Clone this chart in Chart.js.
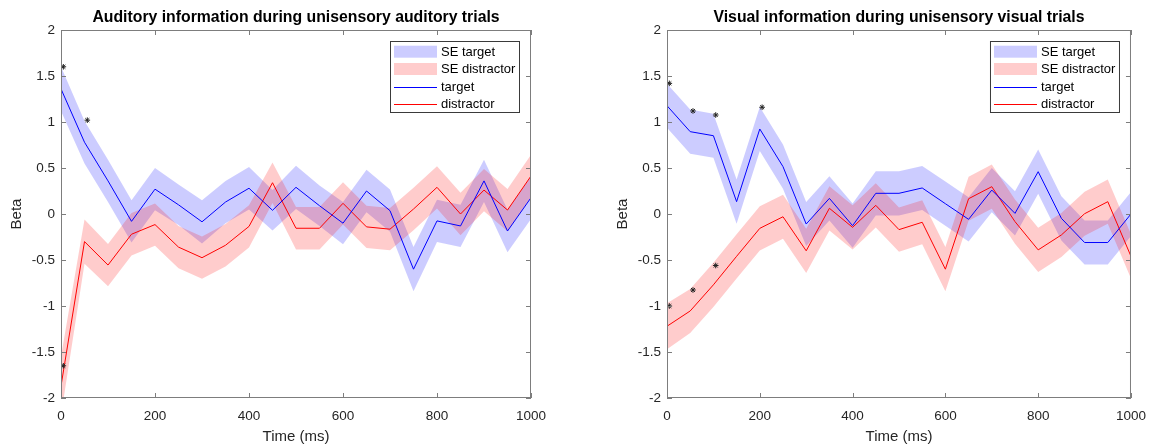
<!DOCTYPE html>
<html>
<head>
<meta charset="utf-8">
<script src="https://cdn.jsdelivr.net/npm/chart.js@4.4.1/dist/chart.umd.min.js"></script>
<style>
  html, body { margin: 0; padding: 0; background: #fff; }
  #wrap { position: relative; width: 1156px; height: 448px; }
  .panel { position: absolute; top: 0; width: 578px; height: 448px; }
</style>
</head>
<body>
<div id="wrap">
  <div class="panel" style="left:0"><canvas id="audChart" width="578" height="448"></canvas></div>
  <div class="panel" style="left:578px"><canvas id="visChart" width="578" height="448"></canvas></div>
</div>
<script>
// time bins (ms)
const timeMs = [0, 50, 100, 150, 200, 250, 300, 350, 400, 450, 500, 550, 600, 650, 700, 750, 800, 850, 900, 950, 1000];

// auditory trials
const audTarget   = [1.36, 0.78, 0.36, -0.08, 0.27, 0.10, -0.085, 0.13, 0.28, 0.04, 0.29, 0.09, -0.10, 0.25, 0.036, -0.60, -0.075, -0.13, 0.36, -0.185, 0.177];
const audTargetSE = [0.24, 0.23, 0.23, 0.23, 0.23, 0.22, 0.235, 0.23, 0.23, 0.22, 0.235, 0.22, 0.23, 0.23, 0.23, 0.24, 0.23, 0.23, 0.23, 0.23, 0.23];
const audDistr    = [-1.87, -0.30, -0.555, -0.22, -0.115, -0.36, -0.475, -0.34, -0.135, 0.34, -0.155, -0.155, 0.116, -0.14, -0.165, 0.054, 0.29, 0.0, 0.26, 0.043, 0.413];
const audDistrSE  = [0.32, 0.24, 0.23, 0.23, 0.23, 0.23, 0.23, 0.23, 0.23, 0.22, 0.23, 0.23, 0.23, 0.23, 0.23, 0.23, 0.23, 0.23, 0.23, 0.23, 0.23];
// significance markers
const audTargetStarX = [5, 56];
const audTargetStarY = [1.60, 1.02];
const audDistrStarX  = [5];
const audDistrStarY  = [-1.65];

// visual trials
const visTarget   = [1.177, 0.895, 0.851, 0.134, 0.924, 0.515, -0.109, 0.17, -0.127, 0.225, 0.225, 0.283, 0.112, -0.058, 0.26, 0.007, 0.46, -0.047, -0.31, -0.31, 0.0];
const visTargetSE = [0.24, 0.24, 0.24, 0.24, 0.24, 0.24, 0.24, 0.24, 0.24, 0.24, 0.24, 0.24, 0.24, 0.24, 0.24, 0.24, 0.24, 0.24, 0.24, 0.24, 0.24];
const visDistr    = [-1.22, -1.054, -0.77, -0.46, -0.156, -0.03, -0.40, 0.062, -0.145, 0.094, -0.17, -0.09, -0.60, 0.166, 0.297, -0.083, -0.39, -0.228, 0.003, 0.134, -0.46];
const visDistrSE  = [0.25, 0.24, 0.24, 0.24, 0.24, 0.24, 0.24, 0.24, 0.24, 0.24, 0.24, 0.24, 0.24, 0.24, 0.24, 0.24, 0.24, 0.24, 0.24, 0.24, 0.24];
const visTargetStarX = [5, 56, 105, 205];
const visTargetStarY = [1.42, 1.12, 1.076, 1.16];
const visDistrStarX  = [5, 56, 105];
const visDistrStarY  = [-1.0, -0.826, -0.56];

const legendLabels = ['SE target', 'SE distractor', 'target', 'distractor'];

const FONT = '"Liberation Sans", Arial, Helvetica, sans-serif';
const AXIS_COLOR = '#7d7d7d';
const TEXT_COLOR = '#262626';
const BLUE = 'rgb(0,0,255)';
const RED = 'rgb(255,0,0)';
const BLUE_FILL = 'rgba(0,0,255,0.2)';
const RED_FILL = 'rgba(255,0,0,0.2)';

function pts(ys) {
  return timeMs.map((t, i) => ({ x: t, y: ys[i] }));
}

function band(mean, se, sign) {
  return pts(mean.map((v, i) => v + sign * se[i]));
}

// axes box, inward ticks, title and the boxed legend
const matlabFrame = {
  id: 'matlabFrame',
  afterDraw(chart) {
    const { ctx, chartArea: a, scales: { x, y } } = chart;
    const opts = chart.options.plugins.matlabFrame;
    ctx.save();
    ctx.strokeStyle = AXIS_COLOR;
    ctx.lineWidth = 1;
    ctx.strokeRect(a.left + 0.5, a.top + 0.5, a.width - 1, a.height - 1);
    ctx.beginPath();
    x.ticks.forEach(t => {
      const px = Math.round(x.getPixelForValue(t.value)) + 0.5;
      ctx.moveTo(px, a.bottom); ctx.lineTo(px, a.bottom - 5);
      ctx.moveTo(px, a.top); ctx.lineTo(px, a.top + 5);
    });
    y.ticks.forEach(t => {
      const py = Math.round(y.getPixelForValue(t.value)) + 0.5;
      ctx.moveTo(a.left, py); ctx.lineTo(a.left + 5, py);
      ctx.moveTo(a.right, py); ctx.lineTo(a.right - 5, py);
    });
    ctx.stroke();

    // title
    ctx.fillStyle = '#000';
    ctx.font = 'bold 15.8px ' + FONT;
    ctx.textAlign = 'center';
    ctx.textBaseline = 'middle';
    ctx.fillText(opts.title, (a.left + a.right) / 2, 17.5);

    // legend
    const bw = 129, bh = 71;
    const bx = a.right - 12 - bw, by = a.top + 11;
    ctx.fillStyle = '#fff';
    ctx.fillRect(bx, by, bw, bh);
    ctx.strokeStyle = '#3a3a3a';
    ctx.strokeRect(bx + 0.5, by + 0.5, bw, bh);
    const rows = [10.7, 28, 45.5, 62.7];
    const swatch = [
      { fill: BLUE_FILL }, { fill: RED_FILL }, { line: BLUE }, { line: RED }
    ];
    ctx.font = '13px ' + FONT;
    ctx.textAlign = 'left';
    legendLabels.forEach((lbl, i) => {
      const cy = by + rows[i];
      const s = swatch[i];
      if (s.fill) {
        ctx.fillStyle = s.fill;
        ctx.fillRect(bx + 4, cy - 6, 43, 12);
      } else {
        ctx.strokeStyle = s.line;
        ctx.beginPath();
        ctx.moveTo(bx + 4, Math.round(cy) + 0.5);
        ctx.lineTo(bx + 47, Math.round(cy) + 0.5);
        ctx.stroke();
      }
      ctx.fillStyle = '#000';
      ctx.fillText(lbl, bx + 51, cy + 0.5);
    });
    ctx.restore();
  }
};

// plain numbers, no thousands separator or trailing zeros
const plainTick = v => String(Math.round(v * 100) / 100);

function makeChart(id, title, tgt, tgtSE, dis, disSE, tStarX, tStarY, dStarX, dStarY, padLeft, padRight) {
  const stars = tStarX.map((v, i) => ({ x: v, y: tStarY[i] }))
    .concat(dStarX.map((v, i) => ({ x: v, y: dStarY[i] })));
  const bandStyle = { borderWidth: 0, borderColor: 'rgba(0,0,0,0)', pointRadius: 0, pointHoverRadius: 0 };
  return new Chart(document.getElementById(id), {
    type: 'line',
    data: {
      datasets: [
        { label: 'stars', data: stars, showLine: false, pointStyle: 'star', pointRadius: 2.8,
          borderColor: '#222', borderWidth: 1, backgroundColor: '#222' },
        { label: 'target', data: pts(tgt), borderColor: BLUE, borderWidth: 1, pointRadius: 0, fill: false },
        { label: 'distractor', data: pts(dis), borderColor: RED, borderWidth: 1, pointRadius: 0, fill: false },
        Object.assign({ label: 'SE distractor', data: band(dis, disSE, 1), fill: '+1', backgroundColor: RED_FILL }, bandStyle),
        Object.assign({ label: 'dLo', data: band(dis, disSE, -1), fill: false }, bandStyle),
        Object.assign({ label: 'SE target', data: band(tgt, tgtSE, 1), fill: '+1', backgroundColor: BLUE_FILL }, bandStyle),
        Object.assign({ label: 'tLo', data: band(tgt, tgtSE, -1), fill: false }, bandStyle)
      ]
    },
    options: {
      responsive: false,
      animation: false,
      events: [],
      layout: { padding: { top: 30, left: padLeft, right: padRight, bottom: 0 } },
      elements: { line: { tension: 0 } },
      plugins: {
        legend: { display: false },
        tooltip: { enabled: false },
        matlabFrame: { title: title }
      },
      scales: {
        x: {
          type: 'linear', min: 0, max: 1000,
          ticks: { stepSize: 200, color: TEXT_COLOR, font: { family: FONT, size: 13.5 }, padding: 10, maxRotation: 0, callback: plainTick },
          grid: { display: false, drawTicks: false },
          border: { display: false },
          title: { display: true, text: 'Time (ms)', color: TEXT_COLOR, font: { family: FONT, size: 15 }, padding: { top: 0, bottom: 2 } },
          afterFit: s => { s.height = 50; }
        },
        y: {
          type: 'linear', min: -2, max: 2,
          ticks: { stepSize: 0.5, color: TEXT_COLOR, font: { family: FONT, size: 13.5 }, padding: 6, callback: plainTick },
          grid: { display: false, drawTicks: false },
          border: { display: false },
          title: { display: true, text: 'Beta', color: TEXT_COLOR, font: { family: FONT, size: 15 }, padding: { top: 7.5, bottom: 0 } },
          afterFit: s => { s.width = 61; }
        }
      }
    },
    plugins: [matlabFrame]
  });
}

makeChart('audChart', 'Auditory information during unisensory auditory trials',
  audTarget, audTargetSE, audDistr, audDistrSE,
  audTargetStarX, audTargetStarY, audDistrStarX, audDistrStarY, 0, 47);

makeChart('visChart', 'Visual information during unisensory visual trials',
  visTarget, visTargetSE, visDistr, visDistrSE,
  visTargetStarX, visTargetStarY, visDistrStarX, visDistrStarY, 28, 21);
</script>
</body>
</html>
